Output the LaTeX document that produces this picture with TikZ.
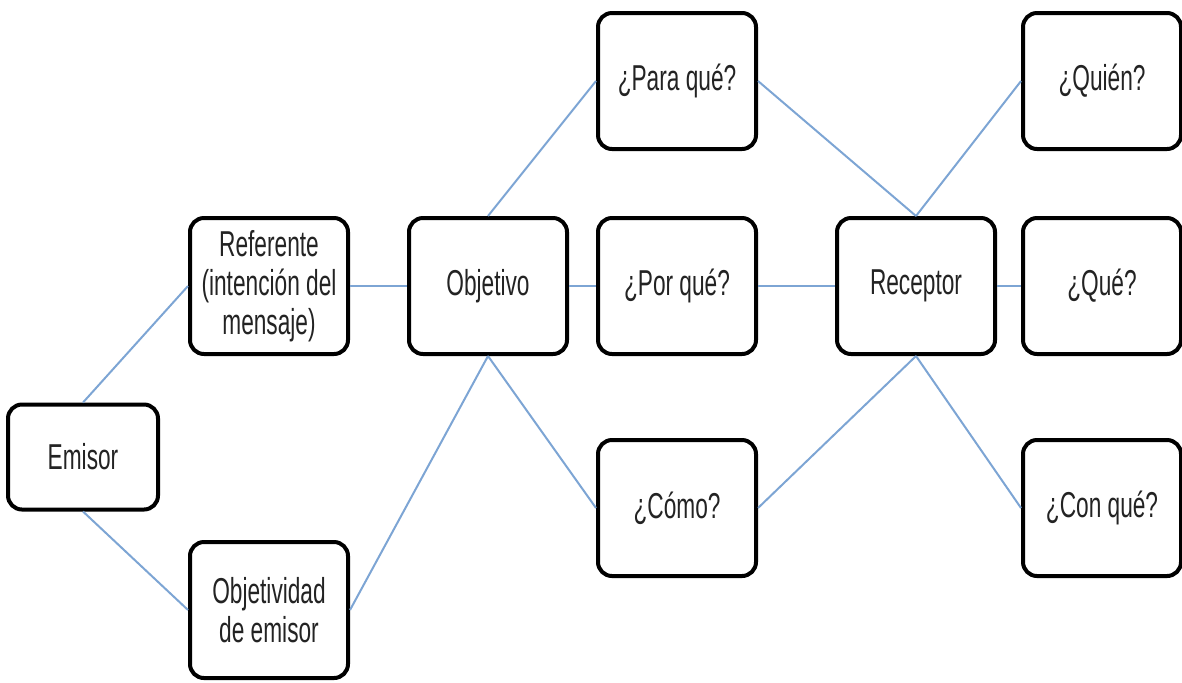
\documentclass[tikz,border=0pt]{standalone}
\usepackage{fontspec}
\setmainfont{Liberation Sans}[FakeStretch=0.63]
\usepackage{tikz}

\definecolor{enlace}{RGB}{125,165,212}
\definecolor{texto}{RGB}{35,35,35}

\tikzset{
  caja/.style={draw=black, line width=2pt, rounded corners=7pt, fill=white,
    minimum width=79pt, minimum height=68pt, align=center, text=texto,
    font=\fontsize{18}{19.5}\selectfont, inner sep=2pt},
  enlace/.style={draw=enlace, line width=1pt}
}

\begin{document}
\begin{tikzpicture}[x=0.5pt,y=-0.5pt]

% area
\useasboundingbox (0,0) rectangle (1182,682);

% nodes
\node[caja, minimum width=75pt, minimum height=52.5pt] (emisor) at (83,457) {Emisor};
\node[caja] (referente) at (269,286) {Referente\\(intención del\\mensaje)};
\node[caja] (objetividad) at (269,610) {Objetividad\\de emisor};
\node[caja] (objetivo) at (488,286) {Objetivo};
\node[caja] (paraque) at (677,81) {¿Para qué?};
\node[caja] (porque) at (677,286) {¿Por qué?};
\node[caja] (como) at (677,508) {¿Cómo?};
\node[caja] (receptor) at (916,286) {Receptor};
\node[caja] (quien) at (1102,81) {¿Quién?};
\node[caja] (que) at (1102,286) {¿Qué?};
\node[caja] (conque) at (1102,508) {¿Con qué?};

% connectors
\draw[enlace] (emisor.north) -- (referente.west);
\draw[enlace] (emisor.south) -- (objetividad.west);
\draw[enlace] (referente.east) -- (objetivo.west);
\draw[enlace] (objetividad.east) -- (objetivo.south);
\draw[enlace] (objetivo.north) -- (paraque.west);
\draw[enlace] (objetivo.east) -- (porque.west);
\draw[enlace] (objetivo.south) -- (como.west);
\draw[enlace] (paraque.east) -- (receptor.north);
\draw[enlace] (porque.east) -- (receptor.west);
\draw[enlace] (como.east) -- (receptor.south);
\draw[enlace] (receptor.north) -- (quien.west);
\draw[enlace] (receptor.east) -- (que.west);
\draw[enlace] (receptor.south) -- (conque.west);
\end{tikzpicture}
\end{document}
